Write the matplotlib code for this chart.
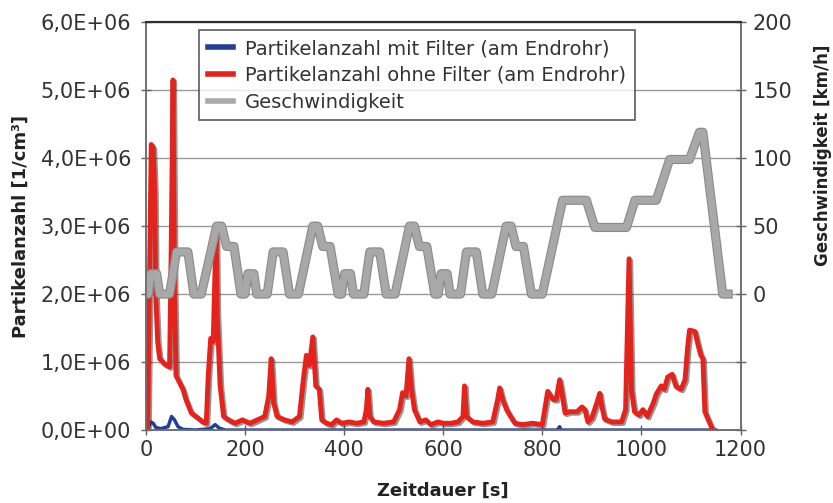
import matplotlib
matplotlib.use("Agg")
import matplotlib.pyplot as plt
import matplotlib.patheffects as pe
from matplotlib.lines import Line2D

plt.rcParams['font.family'] = ['DejaVu Sans']

# ---- data ----
# Partikelanzahl ohne Filter (red), time [s] and value [1E6 1/cm3]
red_t = [0, 4, 8, 11, 15, 18, 20, 24, 28, 38, 48, 51, 55, 58, 61, 68, 75, 81, 92,
         105, 115, 122, 126, 131, 136, 142, 144, 146, 150, 157, 167, 180, 195, 210,
         225, 240, 248, 253, 258, 265, 280, 295, 310, 318, 324, 330, 337, 343, 350,
         355, 365, 375, 385, 395, 410, 425, 440, 445, 448, 452, 460, 480, 500, 512,
         518, 525, 531, 536, 542, 553, 565, 575, 590, 600, 615, 630, 640, 643, 647,
         660, 680, 700, 710, 714, 720, 728, 736, 745, 760, 780, 800, 805, 811, 817,
         822, 828, 835, 840, 846, 855, 870, 880, 886, 892, 900, 910, 916, 920, 926,
         940, 960, 968, 975, 980, 986, 995, 1003, 1012, 1024, 1030, 1040, 1046,
         1053, 1062, 1070, 1080, 1088, 1093, 1097, 1108, 1115, 1120, 1124, 1128,
         1135, 1144]
red_v = [0.0, 0.05, 2.5, 4.2, 4.15, 3.5, 2.0, 1.3, 1.05, 0.97, 0.93, 2.5, 5.15, 2.0,
         0.8, 0.7, 0.6, 0.45, 0.25, 0.18, 0.12, 0.1, 0.8, 1.35, 1.3, 3.0, 1.7, 1.35,
         0.65, 0.2, 0.15, 0.1, 0.15, 0.1, 0.15, 0.2, 0.5, 1.05, 0.4, 0.2, 0.15, 0.12,
         0.2, 0.75, 1.1, 0.95, 1.37, 0.65, 0.6, 0.15, 0.1, 0.08, 0.15, 0.1, 0.12, 0.1,
         0.12, 0.3, 0.6, 0.2, 0.12, 0.1, 0.12, 0.3, 0.55, 0.5, 1.05, 0.6, 0.3, 0.12,
         0.15, 0.08, 0.12, 0.1, 0.1, 0.12, 0.2, 0.65, 0.2, 0.12, 0.1, 0.12, 0.45, 0.62,
         0.45, 0.3, 0.2, 0.1, 0.08, 0.1, 0.08, 0.3, 0.57, 0.5, 0.45, 0.45, 0.74, 0.53,
         0.25, 0.27, 0.27, 0.34, 0.3, 0.12, 0.18, 0.4, 0.54, 0.35, 0.16, 0.12, 0.12,
         0.3, 2.52, 0.58, 0.27, 0.22, 0.3, 0.2, 0.4, 0.53, 0.65, 0.6, 0.78, 0.82, 0.64,
         0.6, 0.74, 1.2, 1.47, 1.45, 1.23, 1.1, 1.05, 0.27, 0.15, 0.0]

# Partikelanzahl mit Filter (blue)
blue_t = [0, 5, 10, 15, 20, 30, 45, 52, 58, 65, 75, 100, 130, 140, 148, 160, 830,
          835, 838, 1150]
blue_v = [0.0, 0.03, 0.12, 0.1, 0.04, 0.02, 0.05, 0.2, 0.15, 0.05, 0.01, 0.0, 0.02,
          0.08, 0.03, 0.0, 0.0, 0.05, 0.0, 0.0]

# Geschwindigkeit [km/h]
speed_t = [0, 5, 10, 22, 28, 48, 62, 85, 97, 112, 143, 153, 163, 178, 192,
           200, 206, 218, 224, 245, 257, 277, 290, 308, 337, 347, 357, 372, 388,
           395, 401, 413, 419, 440, 452, 472, 485, 503, 532, 542, 552, 567, 583,
           590, 596, 608, 614, 635, 647, 667, 680, 698, 727, 737, 747, 762, 778,
           800, 841, 889, 906, 970, 987, 1030, 1057, 1097, 1117, 1124, 1164, 1175]
speed_v = [0, 0, 15, 15, 0, 0, 31, 31, 0, 0, 50, 50, 35, 35, 0,
           0, 15, 15, 0, 0, 31, 31, 0, 0, 50, 50, 35, 35, 0,
           0, 15, 15, 0, 0, 31, 31, 0, 0, 50, 50, 35, 35, 0,
           0, 15, 15, 0, 0, 31, 31, 0, 0, 50, 50, 35, 35, 0,
           0, 69, 69, 49, 49, 69, 69, 99, 99, 119, 119, 0, 0]

left_ticks = [0, 1e6, 2e6, 3e6, 4e6, 5e6, 6e6]
left_labels = ['0,0E+00', '1,0E+06', '2,0E+06', '3,0E+06', '4,0E+06', '5,0E+06', '6,0E+06']
x_ticks = [0, 200, 400, 600, 800, 1000, 1200]
right_ticks = [-100, -50, 0, 50, 100, 150, 200]
right_labels = ['', '', '0', '50', '100', '150', '200']

RED = '#e4231c'
BLUE = '#233f94'
GRAY = '#a8a8a8'

fig = plt.figure(figsize=(8.33, 5.03), dpi=100)
ax = fig.add_axes([0.175, 0.145, 0.714, 0.811])
ax2 = ax.twinx()

ax.plot(blue_t, [v * 1e6 for v in blue_v], color=BLUE, lw=2.5, zorder=3)
ax.plot(red_t, [v * 1e6 for v in red_v], color=RED, lw=3.5, zorder=4,
        path_effects=[pe.SimpleLineShadow(offset=(1.2, -1.2), shadow_color='#303030', alpha=0.5),
                      pe.Normal()])
ax2.plot(speed_t, speed_v, color=GRAY, lw=5.0, solid_joinstyle='round',
         path_effects=[pe.Stroke(linewidth=6.6, foreground='#8a8a8a'), pe.Normal()])

ax.set_xlim(0, 1200)
ax.set_ylim(0, 6e6)
ax2.set_ylim(-100, 200)
ax.set_xticks(x_ticks)
ax.set_xticklabels([str(t) for t in x_ticks])
ax.set_yticks(left_ticks)
ax.set_yticklabels(left_labels)
ax2.set_yticks(right_ticks)
ax2.set_yticklabels(right_labels)

ax.yaxis.grid(True, color='#9a9a9a', lw=1.0)
ax.set_axisbelow(True)

for a in (ax, ax2):
    for s in a.spines.values():
        s.set_color('#707070')
        s.set_linewidth(1.2)
    a.spines['top'].set_color('#303030')
    a.spines['top'].set_linewidth(1.5)

ax.tick_params(axis='y', direction='inout', length=7, width=1, colors='#606060',
               labelcolor='#333333', labelsize=15, pad=7)
ax.tick_params(axis='x', direction='inout', length=7, width=1, colors='#606060',
               labelcolor='#333333', labelsize=15, pad=4)
ax2.tick_params(axis='y', direction='inout', length=7, width=1, colors='#606060',
                labelcolor='#333333', labelsize=15, pad=5)

ax.set_xlabel('Zeitdauer [s]', fontsize=13, fontweight='bold', color='#222222', labelpad=15)
ax.set_ylabel('Partikelanzahl [1/cm³]', fontsize=13, fontweight='bold', color='#222222', labelpad=8)
ax2.set_ylabel('Geschwindigkeit [km/h]', fontsize=12, fontweight='bold', color='#222222')
ax2.yaxis.set_label_coords(1.124, 0.674)

handles = [Line2D([], [], color=BLUE, lw=4),
           Line2D([], [], color=RED, lw=4),
           Line2D([], [], color=GRAY, lw=4)]
labels = ['Partikelanzahl mit Filter (am Endrohr)',
          'Partikelanzahl ohne Filter (am Endrohr)',
          'Geschwindigkeit']
leg = ax2.legend(handles, labels, loc='upper left', bbox_to_anchor=(0.09, 0.98),
                 fontsize=14, frameon=True, fancybox=False, handlelength=1.3,
                 handletextpad=0.6, borderpad=0.45, labelspacing=0.4, borderaxespad=0)
leg.get_frame().set_edgecolor('#333333')
leg.get_frame().set_linewidth(1.2)
for t in leg.get_texts():
    t.set_color('#333333')

fig.savefig('out.png', dpi=100)
